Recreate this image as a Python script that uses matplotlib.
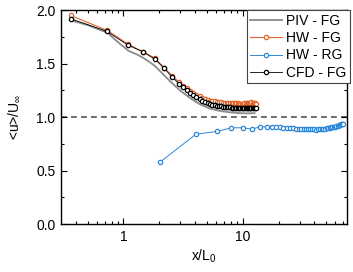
import matplotlib
matplotlib.use('Agg')
import matplotlib.pyplot as plt
from matplotlib.ticker import FixedLocator, NullFormatter

plt.rcParams['font.family'] = ['Liberation Sans', 'DejaVu Sans']
plt.rcParams['mathtext.fontset'] = 'custom'
plt.rcParams['mathtext.rm'] = 'Liberation Sans'
plt.rcParams['mathtext.it'] = 'Liberation Sans'

# PIV - FG (line only)
piv_x = [0.36, 0.5, 0.73, 0.9, 1.1, 1.3, 1.46, 1.68, 1.85, 2.2, 2.46, 2.98, 3.6,
         4.38, 5.3, 6.4, 7.8, 9.4, 11.0, 12.6]
piv_y = [1.905, 1.86, 1.79, 1.70, 1.62, 1.585, 1.555, 1.51, 1.475, 1.39, 1.335, 1.25, 1.18,
         1.12, 1.08, 1.058, 1.045, 1.037, 1.035, 1.037]

# FG stations for HW and CFD
fg_x = [0.36, 0.73, 1.10, 1.46, 1.84, 2.20, 2.56, 2.94, 3.18, 3.40, 3.62, 3.86, 4.10, 4.36,
        4.60, 4.84, 5.10, 5.34, 5.58, 5.84, 6.08, 6.34, 6.58, 6.84, 7.08, 7.34, 7.58, 7.84,
        8.08, 8.34, 8.58, 8.84, 9.08, 9.34, 9.58, 9.84, 10.10, 10.34, 10.60, 10.84, 11.10,
        11.34, 11.60, 11.84, 12.10, 12.34, 12.60, 12.84]
hw_fg = [1.95, 1.81, 1.68, 1.61, 1.55, 1.46, 1.385, 1.325, 1.295, 1.27, 1.248, 1.228, 1.21,
         1.193, 1.18, 1.17, 1.162, 1.155, 1.15, 1.146, 1.142, 1.14, 1.137, 1.135, 1.133,
         1.132, 1.131, 1.13, 1.13, 1.129, 1.128, 1.128, 1.128, 1.127, 1.127, 1.127, 1.127,
         1.128, 1.129, 1.13, 1.132, 1.134, 1.136, 1.137, 1.136, 1.133, 1.128, 1.122]
cfd_fg = [1.92, 1.80, 1.67, 1.61, 1.54, 1.455, 1.375, 1.31, 1.278, 1.252, 1.228, 1.206, 1.185,
          1.166, 1.153, 1.142, 1.132, 1.124, 1.117, 1.111, 1.106, 1.102, 1.099, 1.096, 1.094,
          1.092, 1.091, 1.09, 1.089, 1.088, 1.088, 1.087, 1.087, 1.087, 1.087, 1.087, 1.087,
          1.087, 1.087, 1.087, 1.087, 1.087, 1.088, 1.088, 1.088, 1.087, 1.087, 1.087]

# HW - RG
rg_x = [2.03, 4.06, 6.07, 8.05, 10.0, 12.0, 14.1, 16.0, 17.5, 19.0, 20.5, 22.0, 23.5, 25.0,
        26.5, 28.0, 29.5, 31.0, 32.5, 34.0, 35.5, 37.0, 38.5, 40.0, 41.5, 43.0, 44.5, 46.0,
        47.5, 49.0, 50.5, 52.0, 53.5, 55.0, 56.5, 58.0, 59.5, 61.0, 62.5, 64.0, 65.5, 67.0,
        68.5, 70.0]
rg_y = [0.58, 0.84, 0.866, 0.90, 0.90, 0.888, 0.91, 0.91, 0.908, 0.905, 0.903, 0.90, 0.898,
        0.897, 0.895, 0.893, 0.89, 0.888, 0.887, 0.889, 0.886, 0.885, 0.888, 0.886, 0.884,
        0.887, 0.889, 0.888, 0.89, 0.892, 0.894, 0.897, 0.90, 0.903, 0.905, 0.908, 0.912,
        0.915, 0.92, 0.924, 0.928, 0.932, 0.936, 0.94]

orange = '#E0652E'
blue = '#2F86D6'

fig = plt.figure(figsize=(3.53, 2.72), dpi=100)
ax = fig.add_axes([0.173, 0.176, 0.81, 0.787])

ax.axhline(1.0, color='#555555', ls=(0, (3.5, 2.5)), lw=1.2, zorder=1)
ax.plot(piv_x, piv_y, color='#8a8a8a', lw=1.3, label='PIV - FG', zorder=2)
ax.plot(fg_x, hw_fg, color=orange, lw=0.8, marker='o', ms=3.1, mfc='white', mec=orange,
        mew=0.9, label='HW - FG', zorder=3)
ax.plot(rg_x, rg_y, color=blue, lw=0.7, marker='o', ms=3.1, mfc='white', mec=blue,
        mew=0.9, label='HW - RG', zorder=3)
ax.plot(fg_x, cfd_fg, color='black', lw=0.6, marker='o', ms=3.1, mfc='white', mec='black',
        mew=0.9, label='CFD - FG', zorder=4)

ax.set_xscale('log')
ax.set_xlim(0.3, 75)
ax.set_ylim(0, 2.0)
ax.set_yticks([0.0, 0.5, 1.0, 1.5, 2.0])
ax.set_yticklabels(['0.0', '0.5', '1.0', '1.5', '2.0'])
ax.yaxis.set_minor_locator(FixedLocator([0.25, 0.75, 1.25, 1.75]))
ax.set_xticks([1, 10])
ax.set_xticklabels(['1', '10'])
ax.xaxis.set_minor_locator(FixedLocator([0.4, 0.5, 0.6, 0.7, 0.8, 0.9, 2, 3, 4, 5, 6, 7,
                                         8, 9, 20, 30, 40, 50, 60, 70]))
ax.xaxis.set_minor_formatter(NullFormatter())
ax.tick_params(which='both', direction='in', top=True, right=True, labelsize=10, width=0.8)
ax.tick_params(which='major', length=4, pad=4)
ax.tick_params(which='minor', length=2.5)
for s in ax.spines.values():
    s.set_linewidth(1.0)

ax.set_xlabel('x/L$_0$', fontsize=10, labelpad=3)
ax.set_ylabel('<u>/U$_\\infty$', fontsize=10, labelpad=10)

leg = ax.legend(loc='upper right', bbox_to_anchor=(1.01, 1.0), fontsize=10, frameon=True,
                fancybox=False, edgecolor='#444444', framealpha=1, borderaxespad=0,
                handlelength=2.3, handletextpad=0.3, labelspacing=0.25, borderpad=0.25)
leg.get_frame().set_linewidth(0.8)

fig.savefig('out.png', dpi=100)
